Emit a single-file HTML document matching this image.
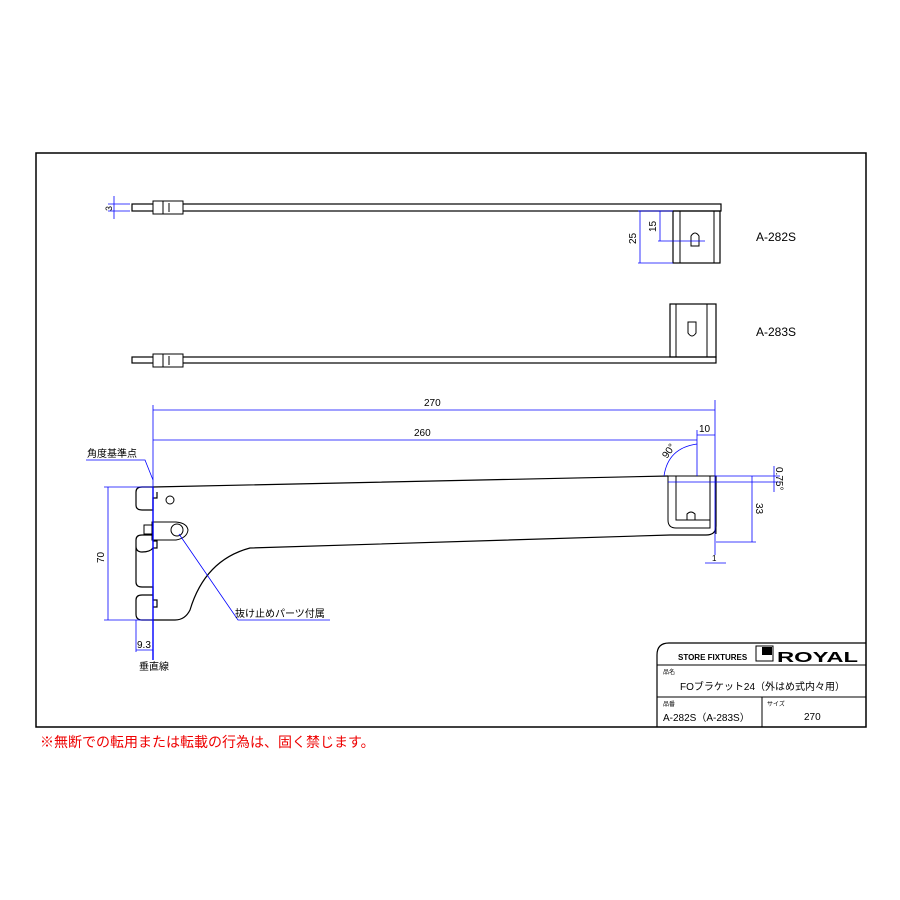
<!DOCTYPE html>
<html><head><meta charset="utf-8"><style>body{margin:0;background:#fff}svg{display:block}text{font-family:"Liberation Sans","Noto Sans CJK JP",sans-serif}</style></head><body>
<svg width="900" height="900" viewBox="0 0 900 900" xmlns="http://www.w3.org/2000/svg">
<rect x="36" y="153" width="830" height="574" fill="none" stroke="#000" stroke-width="1.5"/>
<!-- title block -->
<path d="M657,727 V655 Q657,643 669,643 H866" fill="none" stroke="#000" stroke-width="1.2"/>
<line x1="657" y1="665" x2="866" y2="665" stroke="#000"/>
<line x1="657" y1="697" x2="866" y2="697" stroke="#000"/>
<line x1="762" y1="697" x2="762" y2="727" stroke="#000"/>
<text x="678" y="660" font-size="8" font-weight="bold">STORE FIXTURES</text>
<rect x="756" y="646" width="17" height="15" fill="none" stroke="#000"/><rect x="762" y="647" width="10" height="8" fill="#000"/>
<text x="777" y="662" font-size="15" font-weight="bold" textLength="81" lengthAdjust="spacingAndGlyphs">ROYAL</text>
<text x="663" y="674" font-size="6">品名</text>
<text x="680" y="690" font-size="10">FOブラケット24（外はめ式内々用）</text>
<text x="663" y="706" font-size="6">品番</text><text x="767" y="706" font-size="6">サイズ</text>
<text x="663" y="721" font-size="10">A-282S（A-283S）</text><text x="804" y="720" font-size="10">270</text>
<text x="40" y="747" font-size="14" fill="#e00">※無断での転用または転載の行為は、固く禁じます。</text>
<g stroke="#000" fill="none">
<!-- A-282S -->
<rect x="132" y="204" width="589" height="7" stroke-width="1.2"/>
<rect x="153" y="201" width="30" height="13" fill="#fff"/><line x1="163" y1="201" x2="163" y2="214"/><line x1="169" y1="203" x2="169" y2="212"/>
<rect x="673" y="211" width="47" height="52" stroke-width="1.2"/><line x1="680" y1="211" x2="680" y2="263"/><line x1="714" y1="211" x2="714" y2="263"/>
<path d="M691,246 V236 Q695,230 699,236 V246 Z"/>
<!-- A-283S -->
<rect x="132" y="357" width="584" height="6" stroke-width="1.2"/>
<rect x="153" y="354" width="30" height="13" fill="#fff"/><line x1="163" y1="354" x2="163" y2="367"/><line x1="169" y1="356" x2="169" y2="365"/>
<rect x="670" y="304" width="46" height="53" stroke-width="1.2"/><line x1="676" y1="304" x2="676" y2="357"/><line x1="707" y1="304" x2="707" y2="357"/>
<path d="M688,322 V333 Q692,339 696,333 V322 Z"/>
<!-- main bracket -->
<path d="M153,487 L668,476 M716,476 V526 Q716,535 706,535 L670,535 L250,548 Q205,560 190,610 Q185,620 175,620 L142,620 Q136,620 136,614 V600 Q136,595 142,595 L153,595 V600 L157,600 V607 L153,607 M153,595 V587 H142 Q136,587 136,582 V540 Q136,535 142,535 L153,535 V541 L157,541 V548 L153,548 Q150,552 142,552 Q136,552 136,546 M136,505 V492 Q136,487 142,487 L153,487 M136,505 Q136,510 142,510 L153,510 V498 L157,498 V492" stroke-width="1.2"/>
<circle cx="170" cy="500" r="4"/>
<path d="M152,522 H176 Q187,523 188,530 Q187,538 176,540 H152 Z" fill="#fff"/><circle cx="177" cy="530" r="6"/><rect x="144" y="525" width="8" height="9"/>
<path d="M668,476 H716 V534 M668,476 V520 Q668,528 676,528 H710 V476 M676,476 V520 H710"/>
<path d="M687,520 V514 Q691,510 695,514 V520"/>
</g>
<g stroke="#00f" fill="#00f" stroke-width="0.8">
<line x1="108" y1="204" x2="130" y2="204"/><line x1="108" y1="211" x2="130" y2="211"/><line x1="114" y1="196" x2="114" y2="219"/>
<line x1="638" y1="211" x2="673" y2="211"/><line x1="638" y1="263" x2="673" y2="263"/><line x1="640" y1="211" x2="640" y2="263"/>
<line x1="658" y1="241" x2="705" y2="241"/><line x1="660" y1="211" x2="660" y2="241"/>
<line x1="153" y1="405" x2="153" y2="487"/><line x1="715" y1="400" x2="715" y2="555"/><line x1="153" y1="410" x2="715" y2="410"/>
<line x1="697" y1="430" x2="697" y2="476"/><line x1="153" y1="440" x2="697" y2="440"/><line x1="697" y1="435" x2="715" y2="435"/>
<path d="M664,476 Q668,448 697,444" fill="none"/>
<line x1="715" y1="476" x2="780" y2="476"/><line x1="668" y1="482" x2="780" y2="482"/><line x1="774" y1="466" x2="774" y2="492"/>
<line x1="716" y1="542" x2="756" y2="542"/><line x1="752" y1="476" x2="752" y2="542"/>
<line x1="705" y1="563" x2="726" y2="563"/>
<line x1="104" y1="487" x2="153" y2="487"/><line x1="104" y1="620" x2="153" y2="620"/><line x1="108" y1="487" x2="108" y2="620"/>
<line x1="153" y1="487" x2="153" y2="660" stroke-width="1.4"/><line x1="136" y1="620" x2="136" y2="652"/><line x1="136" y1="650" x2="153" y2="650"/>
<polyline points="86,460 145,460 153,480" fill="none"/>
<polyline points="179,534 238,620 330,620" fill="none"/>
</g>
<g font-size="10" fill="#000">
<text x="108" y="215" transform="rotate(-90 108 211)" font-size="9">3</text>
<text x="636" y="244" transform="rotate(-90 636 244)">25</text>
<text x="656" y="232" transform="rotate(-90 656 232)">15</text>
<text x="756" y="241" font-size="12">A-282S</text><text x="756" y="336" font-size="12">A-283S</text>
<text x="424" y="406">270</text><text x="414" y="436">260</text><text x="699" y="432">10</text>
<text x="667" y="459" transform="rotate(-55 667 459)">90°</text>
<text x="776" y="467" transform="rotate(90 776 467)">0.75°</text>
<text x="756" y="503" transform="rotate(90 756 503)">33</text>
<text x="712" y="561" font-size="8">1</text>
<text x="104" y="563" transform="rotate(-90 104 563)">70</text>
<text x="137" y="648">9.3</text>
<text x="87" y="457">角度基準点</text><text x="139" y="670">垂直線</text><text x="235" y="617">抜け止めパーツ付属</text>
</g>
</svg></body></html>
